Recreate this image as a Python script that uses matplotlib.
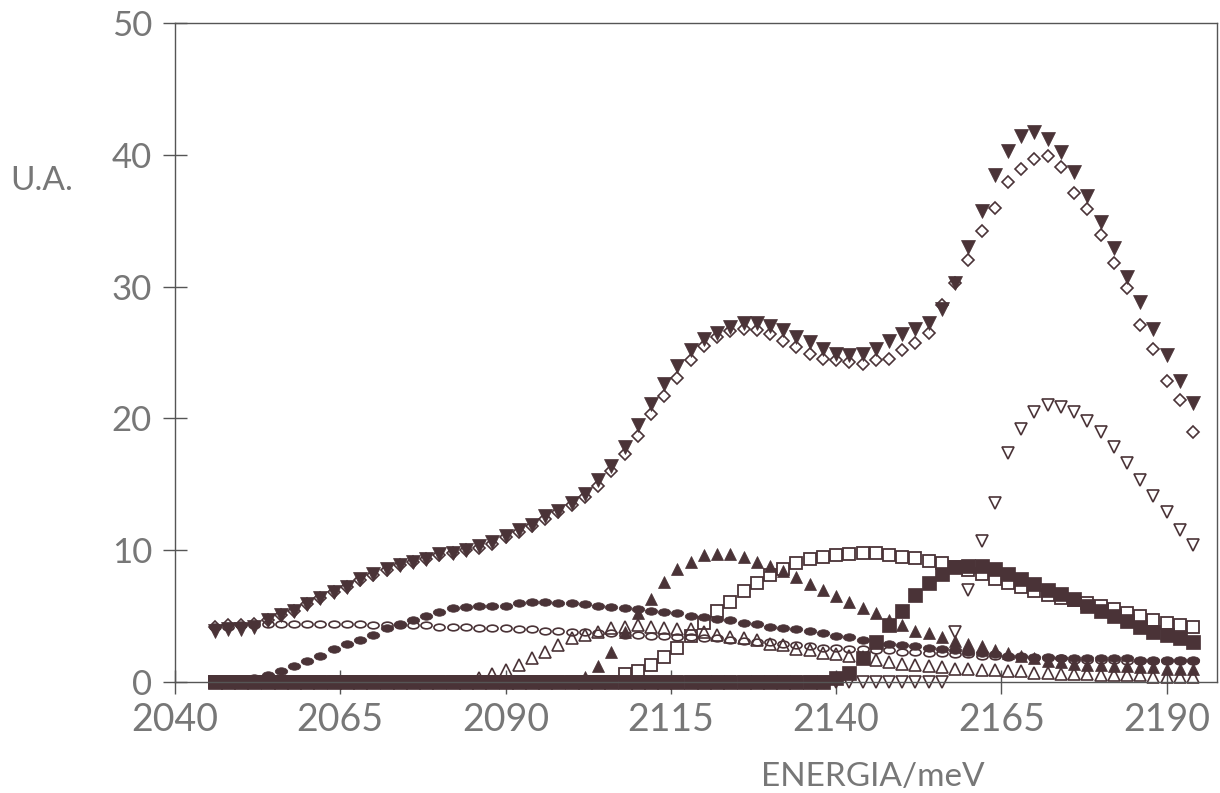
import numpy as np
import matplotlib
matplotlib.use("Agg")
import matplotlib.pyplot as plt
from matplotlib.path import Path
from matplotlib.transforms import Affine2D

# ---- data (energy grid in meV, intensities in U.A.) ----
energy = np.arange(2046, 2195, 2)

tri_down_filled = [3.9, 4.0, 4.0, 4.2, 4.7, 5.1, 5.4, 5.9, 6.4, 6.8,
                   7.2, 7.8, 8.2, 8.6, 8.9, 9.1, 9.3, 9.7, 9.8, 10.0,
                   10.3, 10.6, 11.1, 11.5, 11.9, 12.6, 13.0, 13.6, 14.3, 15.3,
                   16.4, 17.8, 19.5, 21.1, 22.6, 24.0, 25.2, 26.0, 26.5, 26.9,
                   27.2, 27.2, 27.0, 26.7, 26.2, 25.8, 25.3, 24.9, 24.8, 24.9,
                   25.3, 25.9, 26.4, 26.8, 27.2, 28.3, 30.3, 33.0, 35.7, 38.5,
                   40.3, 41.4, 41.7, 41.2, 40.2, 38.7, 36.9, 34.9, 32.9, 30.7,
                   28.8, 26.8, 24.8, 22.8, 21.2]

diamond_open = [4.2, 4.3, 4.3, 4.4, 4.7, 5.1, 5.4, 5.9, 6.4, 6.8,
                7.2, 7.7, 8.1, 8.5, 8.9, 9.1, 9.3, 9.6, 9.8, 10.0,
                10.2, 10.5, 11.0, 11.4, 11.8, 12.4, 12.9, 13.4, 14.0, 14.9,
                16.0, 17.3, 18.7, 20.3, 21.7, 23.1, 24.4, 25.5, 26.2, 26.6,
                26.8, 26.7, 26.4, 25.9, 25.4, 24.9, 24.5, 24.4, 24.3, 24.1,
                24.4, 24.5, 25.2, 25.7, 26.5, 28.6, 30.3, 32.0, 34.2, 36.0,
                37.9, 38.9, 39.7, 39.9, 39.1, 37.1, 35.9, 33.9, 31.8, 29.9,
                27.1, 25.3, 22.8, 21.4, 19.0]

tri_down_open = [0.0] * 56 + [3.8, 7.0, 10.7, 13.6, 17.4, 19.2, 20.5, 21.0, 20.9, 20.5,
                              19.8, 19.0, 17.8, 16.6, 15.3, 14.1, 12.9, 11.5, 10.4]

square_filled = [0.0] * 47 + [0.3, 0.7, 1.8, 3.0, 4.3, 5.4, 6.6, 7.5, 8.2, 8.7,
                              8.8, 8.8, 8.6, 8.2, 7.8, 7.4, 7.0, 6.7, 6.3, 5.8,
                              5.4, 5.0, 4.6, 4.2, 3.8, 3.6, 3.3, 3.0]

square_open = [0.0] * 31 + [0.6, 0.8, 1.3, 1.9, 2.6, 3.5, 4.5, 5.4, 6.1, 6.9,
                            7.5, 8.1, 8.6, 9.0, 9.3, 9.5, 9.6, 9.7, 9.8, 9.8,
                            9.6, 9.5, 9.4, 9.2, 9.0, 8.7, 8.5, 8.2, 7.8, 7.5,
                            7.2, 6.9, 6.6, 6.4, 6.2, 6.0, 5.8, 5.5, 5.2, 5.0,
                            4.7, 4.5, 4.3, 4.2]

tri_up_filled = [0.0] * 28 + [0.4, 1.2, 2.3, 3.8, 5.2, 6.3, 7.6, 8.6, 9.1, 9.6,
                              9.7, 9.7, 9.5, 9.1, 8.8, 8.4, 8.0, 7.4, 7.0, 6.5,
                              6.1, 5.6, 5.2, 4.7, 4.3, 3.9, 3.7, 3.4, 3.1, 2.9,
                              2.7, 2.4, 2.2, 2.0, 1.8, 1.6, 1.5, 1.4, 1.3, 1.3,
                              1.2, 1.2, 1.1, 1.1, 1.0, 1.0, 1.0]

tri_up_open = [0.0] * 20 + [0.3, 0.6, 0.9, 1.3, 1.8, 2.3, 2.8, 3.3, 3.6, 3.8,
                            4.1, 4.2, 4.3, 4.2, 4.1, 4.0, 4.0, 3.8, 3.6, 3.4,
                            3.3, 3.2, 2.9, 2.8, 2.5, 2.4, 2.2, 2.1, 2.0, 1.9,
                            1.7, 1.5, 1.4, 1.3, 1.2, 1.1, 1.0, 1.0, 0.9, 0.9,
                            0.8, 0.8, 0.7, 0.7, 0.6, 0.6, 0.6, 0.5, 0.5, 0.5,
                            0.5, 0.4, 0.4, 0.4, 0.4]

ellipse_filled = [0.0, 0.0, 0.1, 0.3, 0.5, 0.8, 1.25, 1.6, 2.0, 2.5,
                  2.9, 3.2, 3.6, 4.1, 4.4, 4.7, 5.0, 5.3, 5.6, 5.7,
                  5.8, 5.8, 5.8, 6.0, 6.1, 6.1, 6.0, 6.0, 5.9, 5.8,
                  5.7, 5.6, 5.5, 5.4, 5.3, 5.2, 5.0, 4.9, 4.8, 4.7,
                  4.5, 4.4, 4.2, 4.1, 4.0, 3.9, 3.7, 3.5, 3.4, 3.2,
                  3.0, 2.9, 2.8, 2.7, 2.6, 2.5, 2.4, 2.3, 2.2, 2.1,
                  2.0, 2.0, 1.9, 1.9, 1.8, 1.8, 1.8, 1.8, 1.8, 1.8,
                  1.7, 1.7, 1.7, 1.7, 1.7]

ellipse_open = [4.2, 4.2, 4.3, 4.3, 4.4, 4.4, 4.4, 4.4, 4.4, 4.4,
                4.4, 4.4, 4.3, 4.3, 4.3, 4.3, 4.3, 4.2, 4.2, 4.2,
                4.1, 4.1, 4.1, 4.0, 4.0, 3.9, 3.9, 3.8, 3.8, 3.7,
                3.7, 3.6, 3.6, 3.5, 3.5, 3.4, 3.4, 3.3, 3.3, 3.2,
                3.1, 3.0, 3.0, 2.9, 2.8, 2.7, 2.6, 2.6, 2.5, 2.5,
                2.4, 2.4, 2.3, 2.3, 2.2, 2.2, 2.1, 2.1, 2.0, 2.0,
                1.9, 1.9, 1.8, 1.8, 1.8, 1.7, 1.7, 1.7, 1.7, 1.6,
                1.6, 1.6, 1.6, 1.6, 1.6]

x_ticks = [2040, 2065, 2090, 2115, 2140, 2165, 2190]
y_ticks = [0, 10, 20, 30, 40, 50]

# ---- style ----
INK = "#4a3337"
AXC = "#555555"
TXT = "#777777"
FONT = ["Lato", "DejaVu Sans"]
plt.rcParams["font.family"] = FONT

ellipse = Path.unit_circle().transformed(Affine2D().scale(1.0, 0.6))

fig = plt.figure(figsize=(12.2, 7.93), dpi=100)
ax = fig.add_axes([0.1434, 0.140, 0.9975 - 0.1434, 0.971 - 0.140])

common = dict(linestyle="none", clip_on=False)
ax.plot(energy, ellipse_open, marker=ellipse, ms=8, mfc="none", mec=INK, mew=1.2, **common)
ax.plot(energy, tri_up_open, marker="^", ms=8, mfc="none", mec=INK, mew=1.2, **common)
ax.plot(energy, square_open, marker="s", ms=9, mfc="none", mec=INK, mew=1.3, **common)
ax.plot(energy, tri_down_open, marker="v", ms=8, mfc="none", mec=INK, mew=1.2, **common)
ax.plot(energy, diamond_open, marker="D", ms=6.5, mfc="none", mec=INK, mew=1.2, **common)
ax.plot(energy, ellipse_filled, marker=ellipse, ms=9, mfc=INK, mec=INK, mew=0.5, **common)
ax.plot(energy, tri_up_filled, marker="^", ms=9, mfc=INK, mec=INK, mew=0.5, **common)
ax.plot(energy, square_filled, marker="s", ms=9.5, mfc=INK, mec=INK, mew=0.5, **common)
ax.plot(energy, tri_down_filled, marker="v", ms=9.5, mfc=INK, mec=INK, mew=0.5, **common)

ax.set_xlim(2040, 2197.6)
ax.set_ylim(0, 50)
ax.set_xticks(x_ticks)
ax.set_yticks(y_ticks)
ax.set_xticklabels([str(v) for v in x_ticks], fontsize=27, color=TXT, fontweight="normal")
ax.set_yticklabels([str(v) for v in y_ticks], fontsize=25, color=TXT, fontweight="normal")
ax.tick_params(direction="inout", length=17, width=1.0, color=AXC)
ax.tick_params(axis="x", pad=6)
ax.tick_params(axis="y", pad=8)
for s in ax.spines.values():
    s.set_color(AXC)
    s.set_linewidth(1.0)

fig.text(10 / 1220, 1 - 181 / 793, "U.A.", fontsize=24, color=TXT,
         fontweight="normal", ha="left", va="center")
fig.text(873 / 1220, 1 - 777 / 793, "ENERGIA/meV", fontsize=24, color=TXT,
         fontweight="normal", ha="center", va="center")

fig.savefig("out.png", dpi=100, facecolor="white")
